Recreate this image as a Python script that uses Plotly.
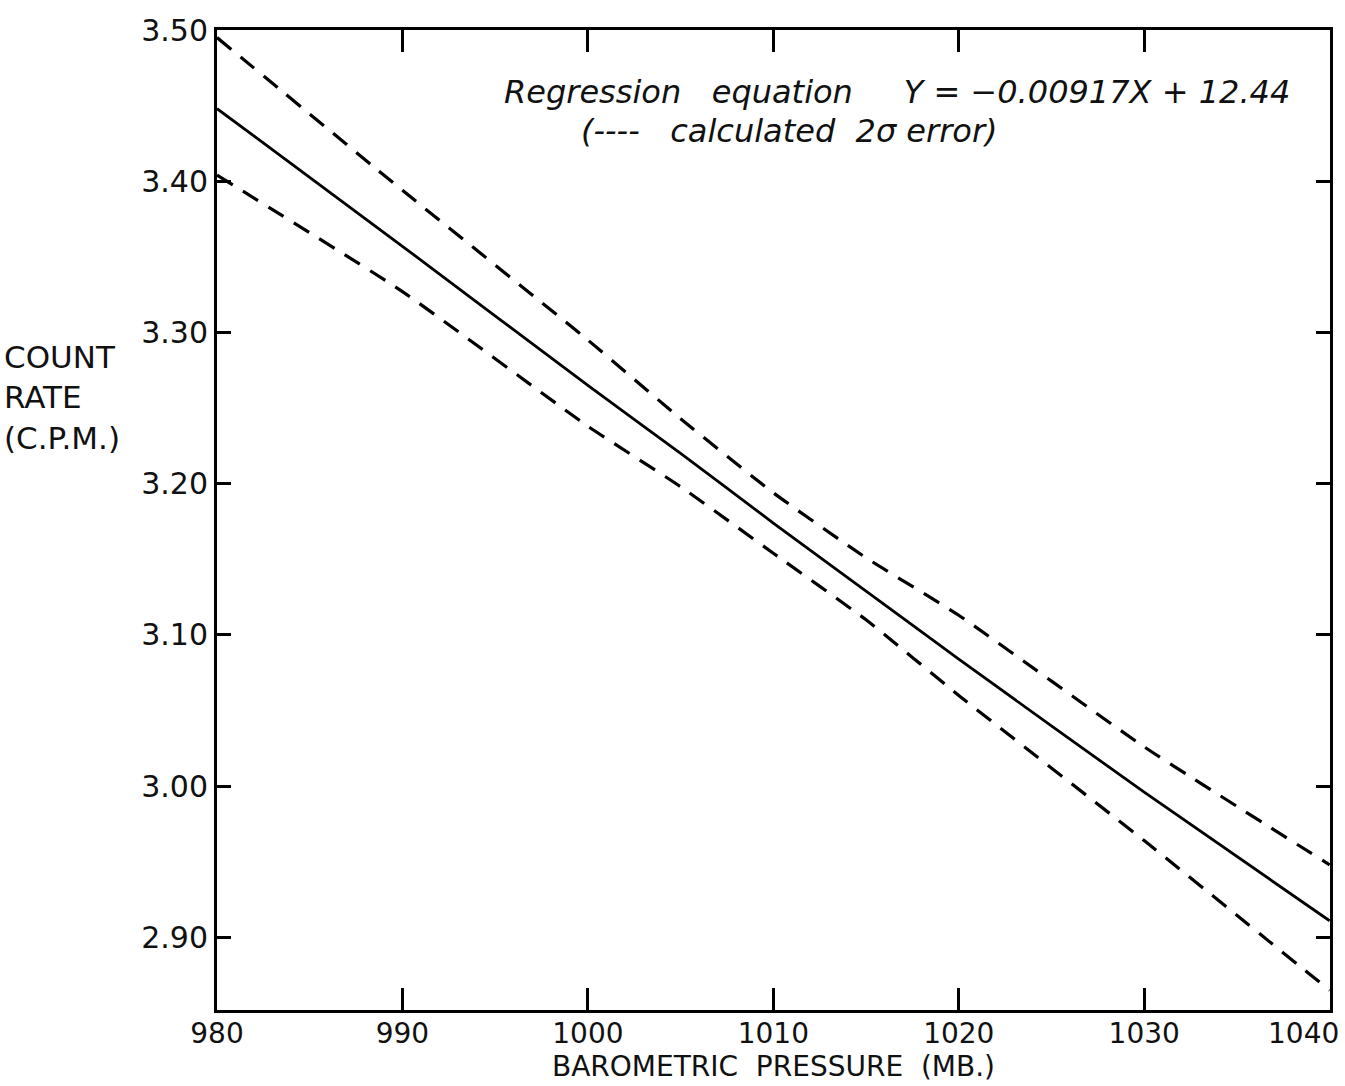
import plotly.graph_objects as go

pressure = [980, 990, 1000, 1005, 1010, 1015, 1020, 1030, 1040]
regression = [3.448, 3.357, 3.265, 3.220, 3.174, 3.129, 3.084, 2.996, 2.911]
upper_2sigma = [3.495, 3.394, 3.295, 3.243, 3.194, 3.151, 3.113, 3.026, 2.948]
lower_2sigma = [3.404, 3.327, 3.238, 3.198, 3.154, 3.110, 3.060, 2.964, 2.865]

x_ticks = [980, 990, 1000, 1010, 1020, 1030, 1040]
x_ticklabels = ["980", "990", "1000", "1010", "1020", "1030", ""]
x_last_tick = [1040]
x_last_label = ["1040"]
y_ticks = [2.90, 3.00, 3.10, 3.20, 3.30, 3.40, 3.50]
y_ticklabels = ["2.90", "3.00", "3.10", "3.20", "3.30", "3.40", "3.50"]

FONT = "DejaVu Sans"
TXT = "#111"
X_RANGE = [980, 1040.02]

fig = go.Figure()
for band in (upper_2sigma, lower_2sigma):
    fig.add_trace(go.Scatter(x=pressure, y=band, mode="lines",
                             line=dict(color="black", width=3.2, dash="18px,12px",
                                       shape="spline", smoothing=0.5),
                             showlegend=False, hoverinfo="skip"))
fig.add_trace(go.Scatter(x=pressure, y=regression, mode="lines",
                         line=dict(color="black", width=2.8, shape="spline", smoothing=0.5),
                         showlegend=False))

tick_font = dict(size=28, family=FONT, color=TXT)

fig.update_layout(
    width=1345, height=1086,
    margin=dict(l=217, r=15, t=30, b=76, autoexpand=False),
    paper_bgcolor="white", plot_bgcolor="white",
    font=dict(family=FONT, color=TXT),
    xaxis=dict(range=X_RANGE, tickvals=x_ticks, ticktext=x_ticklabels,
               automargin=False,
               showgrid=False, zeroline=False, showline=True, linecolor="black",
               linewidth=3, mirror="ticks", ticks="inside", ticklen=22,
               tickwidth=2.5, tickcolor="black", ticklabelstandoff=-4,
               tickfont=tick_font,
               title=dict(text="BAROMETRIC  PRESSURE  (MB.)",
                          font=dict(size=28, family=FONT, color=TXT),
                          standoff=0)),
    xaxis2=dict(range=X_RANGE, overlaying="x", side="bottom", anchor="y",
                tickvals=x_last_tick, ticktext=x_last_label, automargin=False,
                showgrid=False, zeroline=False, showline=False, ticks="",
                ticklabelshift=-26, ticklabelstandoff=4,
                ticklabeloverflow="allow", tickfont=tick_font),
    yaxis=dict(range=[2.852, 3.50], tickvals=y_ticks, ticktext=y_ticklabels,
               automargin=False,
               showgrid=False, zeroline=False, showline=True, linecolor="black",
               linewidth=3, mirror="ticks", ticks="inside", ticklen=14,
               tickwidth=2.5, tickcolor="black",
               tickfont=dict(size=30, family=FONT, color=TXT)),
    annotations=[
        dict(text="COUNT<br>RATE<br>(C.P.M.)", xref="paper", yref="paper",
             x=-0.193, y=0.625, xanchor="left", yanchor="middle", showarrow=False,
             align="left", font=dict(size=31, family=FONT, color=TXT)),
        dict(text="<i>Regression   equation     Y = −0.00917X + 12.44</i>",
             xref="paper", yref="paper", x=0.966, y=0.937, xanchor="right",
             yanchor="middle", showarrow=False,
             font=dict(size=32, family=FONT, color=TXT)),
        dict(text="<i>(----   calculated  2σ error)</i>",
             xref="paper", yref="paper", x=0.325, y=0.897, xanchor="left",
             yanchor="middle", showarrow=False,
             font=dict(size=32, family=FONT, color=TXT)),
    ],
)
# invisible trace bound to the second x axis so it is rendered
fig.add_trace(go.Scatter(x=[1040], y=[regression[-1]], xaxis="x2", mode="lines",
                         line=dict(width=0), showlegend=False, hoverinfo="skip"))

fig.write_html("out.html")
